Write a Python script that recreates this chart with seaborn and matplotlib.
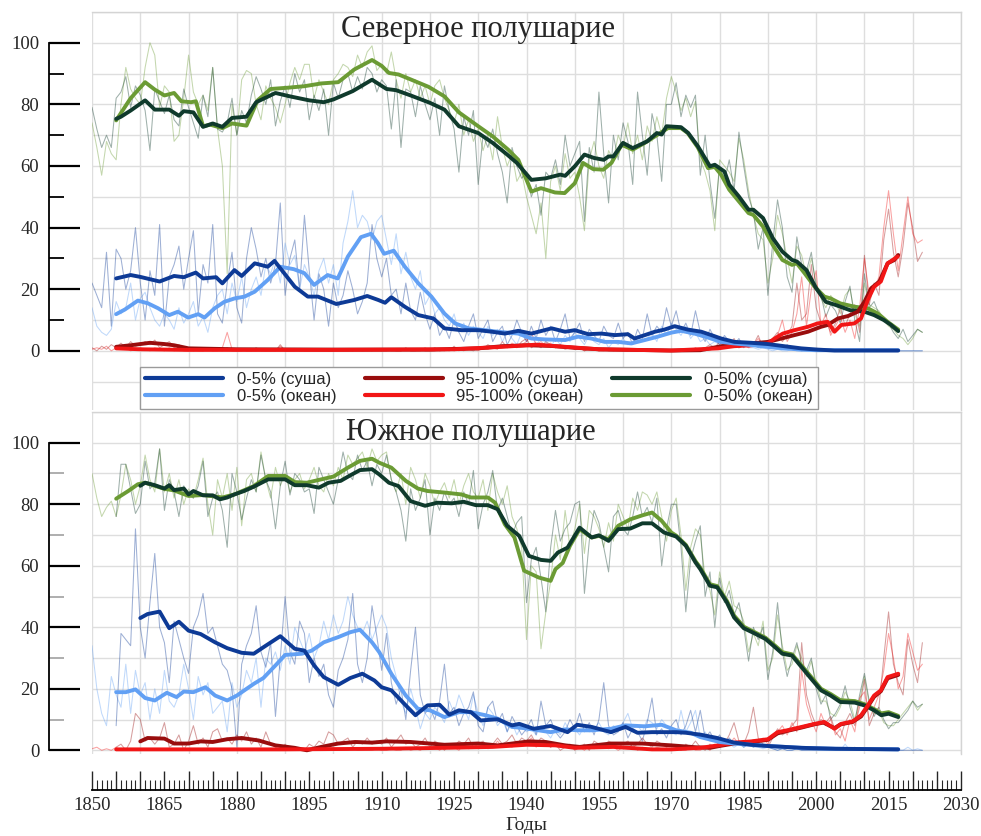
import matplotlib
matplotlib.use('Agg')
import numpy as np
import matplotlib.pyplot as plt
import seaborn as sns
from matplotlib.ticker import MultipleLocator, FixedLocator, FuncFormatter
from matplotlib.lines import Line2D

sns.set_style('white')
plt.rcParams['font.family'] = ['Liberation Serif', 'DejaVu Serif']

# ---------------- данные: годовые значения (тонкие линии) ----------------
NH_START = 1850
nh_land50_thin = [
    79, 72, 66, 70, 66, 82, 84, 89, 79, 86,
    83, 78, 65, 85, 81, 77, 83, 75, 73, 85,
    79, 74, 69, 83, 76, 92, 72, 71, 74, 82,
    70, 78, 74, 83, 89, 85, 80, 88, 73, 81,
    86, 79, 90, 84, 88, 75, 83, 78, 85, 70,
    87, 82, 88, 90, 84, 89, 85, 92, 90, 84,
    88, 86, 72, 88, 66, 85, 84, 76, 86, 80,
    75, 82, 70, 86, 78, 72, 58, 76, 70, 78,
    54, 70, 66, 72, 64, 58, 48, 66, 60, 56,
    58, 50, 54, 44, 58, 56, 62, 54, 70, 60,
    64, 68, 42, 66, 58, 84, 64, 48, 70, 62,
    74, 68, 54, 84, 70, 57, 77, 70, 55, 80,
    80, 87, 76, 83, 79, 83, 57, 70, 55, 43,
    60, 55, 62, 52, 71, 60, 50, 45, 33, 40,
    18, 35, 49, 40, 24, 19, 37, 28, 26, 32,
    20, 18, 11, 15, 13, 9, 16, 21, 10, 3,
    25, 14, 16, 12, 10, 9, 6, 4, 7, 3,
    5, 7, 6]
nh_ocean50_thin = [
    74, 66, 57, 68, 64, 62, 80, 92, 85, 82,
    80, 92, 100, 96, 79, 86, 84, 68, 70, 82,
    96, 84, 80, 83, 78, 92, 72, 60, 25, 80,
    70, 88, 91, 90, 80, 75, 86, 82, 79, 74,
    80, 87, 92, 88, 93, 93, 82, 88, 84, 80,
    88, 90, 93, 92, 89, 96, 92, 97, 99, 91,
    93, 90, 97, 88, 82, 90, 84, 88, 82, 86,
    80, 86, 88, 82, 78, 74, 80, 70, 75, 68,
    72, 65, 70, 62, 76, 66, 60, 64, 55, 58,
    50, 44, 38, 48, 30, 55, 60, 52, 64, 56,
    58, 50, 39, 62, 68, 60, 56, 65, 62, 70,
    66, 74, 64, 70, 62, 73, 68, 76, 70, 82,
    89, 84, 78, 82, 76, 81, 62, 58, 52, 39,
    62, 60, 58, 55, 69, 62, 52, 44, 38, 36,
    22, 30, 44, 38, 30, 22, 34, 31, 24, 30,
    22, 17, 14, 18, 16, 12, 18, 20, 12, 8,
    22, 15, 14, 13, 10, 8, 7, 5, 4, 2,
    4, 7, 6]
nh_land5_thin = [
    22, 18, 14, 32, 8, 33, 30, 20, 26, 40,
    22, 10, 26, 18, 41, 8, 24, 28, 34, 20,
    30, 39, 12, 28, 22, 41, 12, 9, 22, 32,
    14, 9, 30, 40, 33, 24, 30, 22, 28, 48,
    18, 30, 36, 20, 44, 26, 10, 25, 20, 8,
    22, 14, 18, 26, 20, 12, 16, 22, 41, 30,
    24, 30, 18, 20, 12, 22, 13, 10, 19, 12,
    7, 12, 5, 8, 4, 10, 6, 3, 8, 12,
    4, 7, 10, 3, 6, 8, 2, 5, 10, 6,
    3, 8, 4, 10, 5, 8, 3, 7, 12, 4,
    6, 9, 3, 7, 5, 3, 8, 5, 4, 9,
    4, 6, 2, 7, 4, 12, 5, 8, 6, 14,
    8, 13, 6, 9, 5, 13, 6, 3, 7, 4,
    2, 5, 3, 2, 4, 1, 3, 2, 1, 3,
    1, 2, 1, 0.5, 2, 0.5, 1, 0, 0.5, 0,
    0, 0, 0, 0, 0, 0, 0, 0, 0, 0,
    0, 0, 0, 0, 0, 0, 0, 0, 0, 0,
    0, 0, 0]
nh_ocean5_thin = [
    14, 8, 6, 5, 7, 16, 12, 14, 22, 10,
    17, 19, 14, 10, 8, 12, 10, 7, 14, 9,
    12, 16, 8, 11, 6, 14, 18, 20, 12, 22,
    16, 24, 14, 20, 24, 18, 28, 25, 30, 22,
    35, 28, 31, 20, 28, 24, 18, 26, 30, 22,
    28, 18, 35, 42, 52, 40, 44, 42, 36, 42,
    44, 36, 28, 38, 25, 32, 24, 20, 26, 15,
    18, 12, 14, 10, 8, 12, 6, 9, 5, 8,
    6, 4, 8, 5, 7, 3, 6, 4, 2, 6,
    3, 5, 2, 4, 3, 1, 4, 2, 5, 3,
    6, 4, 2, 5, 3, 2, 4, 1, 3, 2,
    4, 2, 3, 5, 3, 4, 6, 3, 8, 5,
    9, 7, 5, 8, 4, 6, 3, 4, 2, 3,
    2, 3, 1, 2, 1, 2, 1, 1, 0.5, 1,
    0.5, 0, 0.5, 0, 0, 0.5, 0, 0, 0, 0,
    0, 0, 0, 0, 0, 0, 0, 0, 0, 0,
    0, 0, 0, 0, 0, 0, 0, 0, 0, 0,
    0, 0, 0]
nh_land95_thin = [
    1, 0, 1.5, 0.5, 2, 1, 2.5, 1, 3, 1.5,
    2, 3, 2, 3.5, 1, 2, 3, 1, 2, 0.5,
    1, 0, 0.5, 0, 1, 0, 0.5, 0, 1, 0,
    0, 0.5, 0, 0, 1, 0, 0, 0.5, 0, 2,
    0, 0, 0.5, 0, 0, 0, 0.5, 0, 0, 0,
    0, 0.5, 0, 0, 0, 0.5, 0, 0, 0, 0.5,
    0, 0, 0.5, 0, 0, 1, 0, 0, 0.5, 0,
    0, 1, 0, 0.5, 0, 1.5, 0, 1, 0.5, 0,
    1, 0.5, 2, 1, 0.5, 3, 1, 2, 1, 3,
    4, 1, 2, 1, 3, 2, 1, 1.5, 0.5, 1,
    0.5, 1, 0, 0.5, 1, 0, 0.5, 0, 0, 0.5,
    0, 0, 0.5, 0, 0, 0, 0.5, 0, 0, 0,
    0, 0, 0.5, 0, 0, 1, 0, 1, 2, 1,
    3, 1, 2, 4, 1, 2, 3, 2, 5, 1,
    2, 4, 6, 3, 5, 8, 22, 10, 12, 28,
    14, 9, 10, 6, 9, 14, 8, 12, 15, 6,
    31, 15, 22, 18, 36, 46, 32, 24, 34, 48,
    40, 29, 32]
nh_ocean95_thin = [
    0.5, 1, 0.5, 1.5, 0, 1, 0.5, 1, 0, 0.5,
    1, 0.5, 0, 1, 0.5, 0, 1, 0, 0.5, 0,
    0, 0.5, 0, 0, 0.5, 0, 0, 1, 6, 0.5,
    0, 0, 0.5, 0, 0, 0.5, 0, 0, 0, 1.5,
    0, 0, 0, 0.5, 0, 0, 0, 0, 0.5, 0,
    0, 0, 0, 0.5, 0, 0, 0, 0.5, 0, 0,
    0, 0.5, 0, 0, 0, 0.5, 0, 0, 0, 1,
    0, 0, 0.5, 0, 1, 0, 0.5, 0, 1, 0.5,
    0, 1, 0.5, 1.5, 1, 2, 1, 2.5, 1.5, 2,
    3, 6, 2, 3, 1.5, 2.5, 1, 2, 1, 1.5,
    0.5, 1, 0, 1, 0.5, 0, 0, 0.5, 0, 0,
    0, 0.5, 0, 0, 0, 0.5, 0, 0, 0, 0,
    0, 0, 0, 0.5, 0, 0, 0.5, 0, 1, 0.5,
    1, 2, 1, 3, 1, 2, 1, 2, 4, 2,
    1, 3, 5, 10, 3, 6, 12, 24, 8, 20,
    26, 8, 12, 5, 8, 11, 6, 10, 4, 14,
    30, 18, 20, 24, 40, 52, 38, 26, 38, 50,
    38, 35, 36]

SH_START = 1850
SH_LAND_START = 1855
sh_ocean50_thin = [
    90, 82, 76, 79, 81, 76, 83, 93, 88, 80,
    86, 96, 88, 84, 98, 84, 90, 82, 88, 80,
    85, 82, 88, 95, 80, 70, 88, 82, 90, 78,
    92, 73, 88, 90, 84, 97, 88, 82, 92, 86,
    90, 84, 88, 90, 85, 88, 92, 86, 84, 90,
    86, 92, 88, 96, 93, 95, 97, 92, 98, 94,
    96, 97, 88, 84, 90, 80, 92, 88, 82, 90,
    86, 80, 84, 87, 82, 88, 80, 86, 90, 84,
    82, 88, 78, 90, 84, 80, 86, 76, 72, 66,
    36, 60, 58, 33, 45, 55, 70, 62, 78, 66,
    72, 80, 64, 78, 76, 72, 66, 74, 68, 80,
    76, 72, 82, 78, 84, 83, 80, 84, 76, 68,
    78, 82, 70, 52, 66, 72, 70, 56, 52, 44,
    58, 50, 55, 47, 46, 42, 32, 38, 34, 42,
    26, 30, 44, 34, 26, 28, 34, 30, 24, 29,
    22, 16, 16, 12, 11, 14, 19, 16, 10, 16,
    24, 15, 12, 13, 9, 8, 8, 10, 12, 14,
    16, 13, 15]
sh_land50_thin = [
    76, 93, 93, 85, 77,
    80, 94, 85, 87, 98, 78, 88, 84, 76, 86,
    83, 82, 86, 94, 76, 82, 84, 78, 66, 90,
    84, 75, 82, 88, 84, 96, 88, 84, 72, 86,
    94, 83, 90, 88, 84, 85, 77, 92, 88, 84,
    80, 88, 97, 90, 88, 96, 91, 94, 86, 93,
    90, 96, 88, 84, 78, 68, 85, 78, 82, 88,
    70, 82, 78, 84, 80, 82, 76, 84, 80, 91,
    72, 80, 84, 91, 78, 82, 76, 70, 74, 76,
    48, 62, 66, 56, 45, 66, 78, 68, 72, 74,
    80, 81, 51, 68, 78, 74, 66, 58, 76, 78,
    72, 70, 76, 84, 76, 79, 74, 82, 60, 72,
    80, 80, 66, 45, 62, 68, 73, 50, 58, 40,
    56, 48, 52, 44, 48, 40, 29, 40, 36, 40,
    23, 32, 48, 32, 24, 30, 35, 28, 26, 30,
    20, 15, 18, 10, 12, 15, 21, 14, 9, 18,
    25, 16, 11, 14, 10, 7, 9, 9, 11, 13,
    16, 14, 15]
sh_land5_thin = [
    8, 38, 36, 34, 72,
    40, 30, 48, 64, 40, 35, 22, 42, 36, 30,
    25, 40, 44, 51, 38, 40, 34, 28, 26, 20,
    1, 28, 34, 38, 47, 32, 27, 35, 11, 30,
    50, 32, 28, 42, 38, 22, 30, 24, 28, 18,
    14, 26, 30, 36, 51, 28, 22, 30, 47, 37,
    26, 38, 22, 15, 20, 10, 26, 40, 18, 12,
    14, 10, 16, 28, 12, 14, 8, 12, 14, 19,
    8, 6, 14, 16, 9, 12, 6, 11, 8, 5,
    7, 10, 5, 16, 8, 10, 6, 4, 6, 10,
    7, 12, 6, 9, 5, 10, 22, 8, 5, 6,
    9, 4, 7, 6, 3, 9, 17, 5, 7, 4,
    8, 10, 5, 8, 13, 6, 13, 4, 6, 3,
    5, 2, 4, 2, 3, 1, 2, 1, 2, 1,
    1, 0.5, 0, 0.5, 0, 0, 0.5, 0, 0, 0,
    0, 0, 0, 0, 0, 0, 0, 0, 1, 0,
    0, 0, 0, 0, 0, 0, 0, 0, 0, 0,
    0, 0, 0]
sh_ocean5_thin = [
    34, 20, 12, 8, 24, 18, 14, 28, 12, 26,
    18, 22, 10, 20, 12, 26, 16, 14, 18, 28,
    20, 10, 24, 18, 22, 12, 14, 16, 6, 22,
    14, 18, 26, 22, 30, 14, 30, 28, 32, 26,
    34, 28, 40, 36, 32, 38, 30, 34, 42, 36,
    44, 38, 42, 50, 44, 40, 38, 42, 36, 40,
    44, 40, 30, 24, 16, 12, 20, 14, 7, 12,
    10, 14, 12, 9, 16, 12, 18, 14, 10, 18,
    12, 8, 14, 12, 8, 10, 6, 9, 5, 8,
    6, 7, 5, 8, 6, 4, 7, 5, 9, 6,
    7, 5, 8, 6, 7, 9, 6, 5, 8, 7,
    9, 12, 7, 8, 6, 10, 9, 7, 10, 8,
    6, 5, 13, 6, 9, 13, 4, 6, 3, 4,
    2, 3, 2, 1, 2, 1, 2, 1, 1, 0.5,
    1, 0.5, 0, 0.5, 0, 0, 0.5, 0, 0, 0,
    0, 0, 0, 0, 0, 0, 2, 0, 0, 0,
    0, 0, 0, 0, 0, 0, 0, 0, 0, 1,
    0, 0.5, 0]
sh_land95_thin = [
    1, 2, 0, 3, 12,
    10, 3, 4, 2, 4, 9, 1, 2, 5, 0,
    3, 8, 2, 4, 1, 6, 7, 3, 4, 2,
    5, 3, 6, 2, 4, 1, 6, 2, 1, 0,
    2, 0, 1, 0, 0, 2, 1, 3, 2, 6,
    5, 2, 3, 4, 1, 3, 2, 4, 2, 3,
    2, 4, 1, 3, 5, 2, 3, 1, 2, 4,
    1, 3, 2, 0, 2, 1, 3, 2, 4, 1,
    2, 3, 1, 2, 4, 2, 3, 5, 2, 4,
    3, 5, 2, 4, 3, 1, 2, 0, 1, 2,
    0, 1, 2, 0, 3, 2, 1, 3, 2, 1,
    2, 3, 1, 2, 4, 2, 1, 3, 2, 1,
    2, 1, 0, 2, 1, 3, 1, 0, 2, 1,
    3, 2, 5, 9, 3, 2, 6, 14, 4, 2,
    1, 4, 7, 5, 6, 8, 10, 35, 18, 12,
    8, 10, 9, 11, 6, 4, 9, 12, 8, 14,
    23, 8, 12, 14, 30, 45, 28, 22, 18, 36,
    28, 22, 35]
sh_ocean95_thin = [
    0.5, 1, 0, 0.5, 0, 1, 0, 0.5, 0, 0,
    0.5, 0, 0, 0.5, 0, 0, 0.5, 0, 0, 0.5,
    0, 0, 0.5, 0, 0, 0, 0.5, 0, 0, 0,
    0.5, 0, 0, 0, 0.5, 0, 0, 0, 0.5, 0,
    0, 0, 0.5, 0, 0, 0, 0, 0.5, 0, 0,
    0.5, 0, 0, 0, 0.5, 0, 0, 0, 0, 0.5,
    0, 0, 0.5, 0, 0, 1, 0, 0.5, 0, 1,
    0.5, 1, 0, 1.5, 0.5, 1, 0, 2, 0.5, 1,
    1, 2, 0.5, 1, 3, 1, 2, 1, 3, 1.5,
    2, 4, 1, 3, 2, 1, 2.5, 1, 2, 1,
    0.5, 1, 0, 1.5, 0.5, 2, 1, 0.5, 1, 0,
    1, 0.5, 2, 0, 1, 0.5, 0, 1, 0.5, 0,
    0, 0.5, 0, 0, 1, 0, 0, 1, 0, 2,
    1, 3, 2, 4, 2, 3, 2, 3, 2, 4,
    2, 5, 6, 8, 5, 9, 6, 26, 15, 10,
    6, 12, 8, 10, 5, 7, 3, 10, 6, 17,
    19, 10, 14, 18, 26, 38, 30, 20, 24, 38,
    32, 26, 28]

# ---------------- данные: сглаженные ряды (толстые линии), (год, %) ----------------
nh_land50 = [(1855, 75.3), (1856, 76), (1858, 78), (1861, 81.3), (1863, 78.3), (1866, 78.3), (1868, 76.3),
             (1869, 77.8), (1871, 77.4), (1873, 72.7), (1875, 73.8), (1877, 72.7), (1879, 75.6), (1882, 76),
             (1884, 80.7), (1888, 83.7), (1891, 82.6), (1895, 81.3), (1898, 80.7), (1900, 81.6), (1904, 84.3),
             (1908, 88), (1911, 85), (1913, 84.6), (1916, 82.9), (1920, 80.5), (1923, 78.3), (1926, 72.9),
             (1930, 70.7), (1933, 67.5), (1936, 63.7), (1938, 61), (1941, 55.5), (1944, 56), (1947, 57.2),
             (1948, 56.8), (1950, 59.9), (1952, 63.7), (1954, 62.6), (1956, 62), (1957, 63.1), (1958, 63.1),
             (1960, 67.5), (1962, 65.8), (1965, 68), (1967, 70.7), (1968, 70.2), (1969, 72.9), (1972, 72.6),
             (1973.5, 70.7), (1975.5, 66.4), (1978, 59.9), (1979, 60.4), (1981, 58.2), (1982, 53.9), (1984, 50.1),
             (1986, 45.8), (1987, 45.8), (1989, 43.1), (1991, 36.6), (1993, 32.2), (1995, 29.5), (1996, 29),
             (1998, 26.2), (2000, 20.3), (2002, 15.9), (2004, 14.9), (2007, 13.2), (2010, 12.7), (2012, 11.6),
             (2014, 10), (2015.5, 8.4), (2017, 6.4)]
nh_ocean50 = [(1855, 74.8), (1856, 77.2), (1858, 82), (1861, 87.2), (1863, 84.8), (1865, 82.9), (1867, 83.7),
              (1868.5, 81), (1870.5, 80.7), (1871.5, 81), (1873, 72.9), (1874.5, 73.4), (1877, 72.3), (1879, 73.8),
              (1882, 73.1), (1884.3, 81.3), (1887, 85), (1890.5, 85.4), (1894, 85.9), (1897.5, 86.8), (1901, 87.2),
              (1904.3, 91.3), (1908, 94.4), (1910, 92.5), (1911.5, 90.2), (1913.5, 89.7), (1916, 88.1),
              (1919.7, 85.7), (1923, 82.6), (1926, 77.4), (1930, 72.9), (1933, 69.6), (1936.2, 65.3), (1938.3, 62),
              (1941, 51.7), (1943, 52.8), (1945.9, 51.4), (1947.9, 51.2), (1950, 54.4), (1951.7, 61), (1953.8, 59),
              (1955.9, 58.8), (1957.6, 61), (1959.7, 66.9), (1962, 65.3), (1964.5, 67.5), (1967.2, 70.2),
              (1969.3, 72.3), (1972, 72.3), (1973.4, 70.7), (1975.5, 66), (1977.6, 59.3), (1979, 59.7),
              (1980.3, 57.2), (1982, 52.3), (1984, 48.5), (1986, 44.7), (1987, 44.1), (1989, 40.3), (1991, 34.4),
              (1993, 29.5), (1995, 27.9), (1996, 28.4), (1997.6, 25.2), (1999.7, 20.8), (2001.7, 17.6), (2003, 17),
              (2005, 15.4), (2008, 14.3), (2010.7, 13.8), (2012.8, 12.1), (2014.8, 9.4), (2017, 6.9)]
nh_land5 = [(1855, 23.5), (1858, 24.6), (1860, 24), (1864, 22.5), (1867, 24.3), (1869, 23.9), (1871.5, 25.4),
            (1873, 23.5), (1875.7, 23.9), (1877, 21.9), (1879.5, 26.2), (1881, 24.3), (1883.7, 28.4), (1886.4, 27.3),
            (1887.8, 29.2), (1892, 20.8), (1894.7, 17.6), (1896.8, 17.6), (1900.6, 15.2), (1904.3, 16.5),
            (1907, 17.8), (1909.3, 16.5), (1910.7, 15.6), (1912, 17.4), (1914.8, 14.3), (1917.6, 11.6),
            (1920.7, 10.5), (1923, 7.3), (1926.5, 6.7), (1930, 6.7), (1932.8, 6.2), (1935.5, 5.6), (1938.3, 6.5),
            (1941, 5.6), (1945.2, 7.3), (1948, 6.2), (1950, 6.7), (1952.8, 5.4), (1955.5, 5.6), (1958.3, 5.1),
            (1961, 5.4), (1962.4, 4), (1964.5, 5.1), (1966.6, 6.2), (1968.6, 6.9), (1970.7, 8), (1973.4, 6.9),
            (1976.2, 6.2), (1978.3, 5.1), (1980.3, 4), (1983.1, 2.9), (1986.6, 2.6), (1990, 2.2), (1993.4, 1.5),
            (1996.9, 0.8), (2000.3, 0.4), (2003.8, 0.1), (2017, 0.1)]
nh_ocean5 = [(1855, 11.9), (1856.8, 13.4), (1859.5, 16.3), (1861.6, 15.4), (1863.7, 13.8), (1866, 11.6),
             (1867.8, 12.7), (1869.9, 10.8), (1872, 11.9), (1873.3, 10.8), (1875.4, 13.8), (1877.4, 15.9),
             (1879.5, 17), (1881.6, 17.6), (1883.7, 19.2), (1886.4, 23), (1889, 27.3), (1891.8, 26.5), (1894, 25.2),
             (1896, 21.4), (1898.8, 24.6), (1900.9, 23.5), (1903, 30.6), (1905.7, 36.9), (1907.8, 38), (1909.2, 35),
             (1910.5, 31.5), (1912.5, 32.5), (1914.8, 27.3), (1917.6, 21.9), (1920.3, 17.6), (1923, 12.1),
             (1925.2, 8.9), (1928, 7.3), (1931.4, 6.7), (1934, 6.2), (1938.3, 5.6), (1941, 4), (1943.8, 3.7),
             (1948, 3.5), (1950.7, 4.6), (1953.4, 4), (1956.2, 2.9), (1959, 2.9), (1961.7, 2.4), (1964.5, 3.5),
             (1967.2, 4.6), (1970, 5.9), (1972, 6.5), (1974.8, 5.6), (1977.6, 4.3), (1980.3, 2.9), (1983, 2.4),
             (1987, 1.8), (1991, 1.1), (1996.9, 0.4), (2000, 0.2), (2017, 0.2)]
nh_land95 = [(1855, 1.3), (1858, 1.8), (1862, 2.6), (1865, 2.2), (1867, 1.8), (1870, 0.8), (1880, 0.5), (1900, 0.4),
             (1920, 0.4), (1930, 0.8), (1935, 1.5), (1940, 1.8), (1945, 1.6), (1950, 1.0), (1955, 0.5), (1970, 0.1),
             (1976, 0.2), (1979.7, 1.3), (1983, 2.2), (1986.6, 2.4), (1990, 2.9), (1992.8, 4), (1995.5, 5.1),
             (1998.3, 6.2), (2001, 7.8), (2002.4, 8.4), (2004.5, 10.5), (2006.6, 11.3), (2008.6, 12.7), (2010, 15.9),
             (2011.4, 20.3), (2013.1, 22.5), (2014.8, 28.4), (2016.2, 29.5), (2017, 31.1)]
nh_ocean95 = [(1855, 0.8), (1860, 0.5), (1870, 0.3), (1900, 0.3), (1925, 0.5), (1935, 1.3), (1942, 2.0), (1948, 1.3),
              (1955, 0.5), (1970, 0.1), (1979.7, 0.8), (1983, 1.5), (1986.6, 1.8), (1990, 2.4), (1991.4, 4),
              (1993.1, 5.6), (1995.5, 6.7), (1998.3, 7.8), (2000.3, 8.9), (2002.4, 9.4), (2003.8, 6.2), (2005.2, 8.4),
              (2007.9, 8.9), (2009.3, 10.5), (2010.7, 16.5), (2012, 20.8), (2013.4, 22.5), (2014.8, 28.4),
              (2016.9, 30.6)]

sh_land50 = [(1860, 86), (1861, 87), (1863, 86.2), (1865, 85.1), (1866, 86.2), (1867, 84.6), (1869, 85.1),
             (1870, 83.2), (1871, 84.3), (1873, 82.9), (1875, 82.9), (1876.5, 81.6), (1878, 82.2), (1879.5, 83.2),
             (1881.5, 84.3), (1883.5, 85.7), (1886.5, 88.1), (1890, 88.1), (1892, 86.2), (1894.5, 86.2),
             (1897, 85.4), (1899, 87), (1901.5, 87.6), (1903.5, 89.4), (1905.5, 91.1), (1908, 91.4),
             (1909.5, 89.7), (1911.5, 87), (1913.5, 85.9), (1916, 81), (1919, 79.5), (1921.5, 80.5),
             (1924.5, 80.3), (1927, 80.8), (1929.5, 79.7), (1932, 79.7), (1934, 78.4), (1936, 73), (1938.5, 69.7),
             (1940.5, 63.2), (1943, 61.9), (1945, 61.6), (1946.5, 64.3), (1948.5, 65.9), (1951, 72.4),
             (1953.5, 69.2), (1955, 69.9), (1957, 68.1), (1959, 71.9), (1961.5, 72.1), (1964, 73.8), (1966, 73.8),
             (1968.5, 70.8), (1971, 69.5), (1973, 66.5), (1975, 61.1), (1976, 58.9), (1978, 53.5), (1979.5, 53),
             (1981.5, 48.1), (1983, 43.2), (1985, 39.7), (1987, 38.2), (1989.5, 36.2), (1991.5, 33.5),
             (1993, 31.4), (1995, 30.8), (1997, 27), (1999, 23.2), (2001, 19.5), (2003, 17.8), (2005, 15.7),
             (2008, 15.5), (2010, 14.6), (2012, 13), (2013.5, 11.4), (2015, 11.9), (2017, 10.8)]
sh_ocean50 = [(1855, 81.8), (1857.5, 84.3), (1859.5, 86.5), (1861, 87), (1863, 86), (1865, 85), (1867, 84.5),
              (1870, 82.7), (1873, 83), (1877, 82.2), (1879.5, 83.2), (1883.5, 85.9), (1886.5, 89.2), (1890, 89.2),
              (1892, 87.2), (1894.5, 87), (1897.5, 88.1), (1900, 89), (1903, 91.9), (1905.5, 94.1), (1908, 94.8),
              (1909.5, 93.5), (1912, 91.9), (1915, 87.6), (1917.5, 85.1), (1919.5, 84.3), (1923, 83.8),
              (1926.5, 83.2), (1928.5, 82.2), (1932, 82.2), (1933.5, 80.5), (1935.5, 73.5), (1937.5, 69.2),
              (1939.5, 58.4), (1942.5, 56.2), (1945, 55.1), (1946, 58.9), (1947.5, 60.9), (1949, 66.5), (1951, 71.9),
              (1953.5, 69.2), (1955, 69.7), (1957, 68.6), (1959, 73), (1961.5, 75.1), (1964, 76.4), (1966, 77.3),
              (1968, 74.6), (1970, 70.8), (1971, 69.8), (1973, 66.8), (1975, 61.5), (1976, 59.4), (1978, 54),
              (1979.5, 53.4), (1981.5, 48.6), (1983, 43.8), (1985, 40.2), (1987, 38.6), (1989.5, 36.6),
              (1991.5, 34), (1993, 31.9), (1995, 31.2), (1997, 27.5), (1999, 23.8), (2001, 20), (2003, 18.3),
              (2005, 16.3), (2008, 16), (2010, 15), (2012, 13.4), (2013.5, 12), (2015, 12.4), (2017, 11.2)]
sh_land5 = [(1860, 43), (1861.5, 44.3), (1864, 45.1), (1866, 39.7), (1868, 41.8), (1870, 38.9), (1872.5, 37.8),
            (1875.5, 35.1), (1878, 33.2), (1881, 31.7), (1883.5, 31.4), (1885.5, 33.5), (1889, 37.1), (1892, 33),
            (1894, 32.4), (1896, 27.6), (1898, 23.8), (1901, 21.3), (1903.5, 23.5), (1906, 24.9), (1908.5, 22.7),
            (1910, 20.5), (1912, 19.5), (1915, 14.6), (1917, 11.4), (1919.5, 14.6), (1922, 14.8), (1924, 11.6),
            (1926, 13), (1928.5, 12.4), (1930.5, 9.7), (1934, 10.1), (1937, 8.1), (1938.5, 8.6), (1941.5, 7),
            (1945, 7.9), (1948.5, 5.9), (1950.5, 8.3), (1953.5, 7.6), (1957.5, 5.9), (1960.5, 7.6), (1963, 5.7),
            (1966, 5.9), (1971, 5.9), (1973, 5.7), (1976, 5.1), (1979.5, 4), (1983, 2.5), (1986.5, 1.8),
            (1990, 1.4), (1997, 0.8), (2004, 0.5), (2017, 0.3)]
sh_ocean5 = [(1855, 18.9), (1857, 18.9), (1859, 19.8), (1861, 17), (1863, 16.2), (1865.5, 18.7), (1867.5, 17.3),
             (1869, 19.1), (1871, 18.9), (1873.5, 20.5), (1875.5, 17.8), (1878, 16.2), (1880, 17.8), (1883.5, 21.6),
             (1885.5, 23.5), (1888, 27.6), (1890, 31), (1893.5, 31.4), (1895.5, 32.4), (1898, 35.1), (1901, 36.8),
             (1903.5, 38.4), (1905.5, 39.2), (1908, 35.1), (1909.5, 31.9), (1912, 24.9), (1915, 17.8),
             (1917.5, 13.5), (1920, 13), (1923, 10.8), (1926, 12.4), (1928.5, 12.4), (1931.5, 11.4), (1934, 10.3),
             (1937, 7.6), (1939.5, 7.2), (1942.5, 6.5), (1945, 5.9), (1948, 6.8), (1950.5, 6.5), (1953.5, 6.5),
             (1957.5, 7), (1960.5, 8.1), (1964.5, 7.8), (1968, 8.3), (1971, 6.5), (1974, 5.7), (1976, 4.3),
             (1980, 2.7), (1983, 2.2), (1990, 1.4), (1997, 0.8), (2004, 0.5), (2017, 0.3)]
sh_land95 = [(1860, 2.9), (1861.5, 4), (1865, 3.8), (1867, 2.2), (1870, 2.2), (1872.5, 2.9), (1875, 2.7),
             (1878, 3.6), (1881, 4), (1884.5, 3.2), (1888, 1.6), (1892, 0.8), (1894.5, 0), (1897.5, 1.1),
             (1901, 2.2), (1904.5, 2.7), (1908, 2.5), (1911, 2.9), (1916, 2.7), (1923, 1.8), (1930, 2.2),
             (1934, 1.6), (1940.5, 2.9), (1944, 2.7), (1948, 1.6), (1951, 1.1), (1957.5, 2.2), (1964, 2.2),
             (1970, 1.6), (1975, 1.0), (1978, 0.8), (1980, 1.4), (1983, 2.2), (1986.5, 2.7), (1990, 3.4),
             (1992, 5.5), (1994, 6.3), (1997, 7.4), (1999.5, 8.4), (2001.5, 9), (2003.8, 7.2), (2005, 8.4),
             (2007.5, 9.2), (2009.3, 11), (2010.7, 14.2), (2012, 17.4), (2013.4, 19.2), (2014.8, 23.4), (2017, 24.5)]
sh_ocean95 = [(1855, 0.3), (1870, 0.3), (1890, 0.3), (1910, 0.5), (1923, 0.8), (1933, 1.1), (1940, 1.8),
              (1946, 1.6), (1950, 0.8), (1958, 1.1), (1966, 0.3), (1970, 0.3), (1976, 0.8), (1979.7, 1.6),
              (1983, 2.5), (1986.6, 2.9), (1990, 3.6), (1992, 5.9), (1994, 6.5), (1997, 7.6), (1999.7, 8.6),
              (2001.7, 9.2), (2003.8, 7), (2005.2, 8.6), (2007.6, 9.4), (2009.3, 11.4), (2010.7, 14.6), (2012, 17.8),
              (2013.4, 19.5), (2014.8, 23.8), (2017, 24.9)]

labels = ['0-5% (суша)', '0-5% (океан)', '95-100% (суша)', '95-100% (океан)', '0-50% (суша)', '0-50% (океан)']
colors = {'land5': '#0d3a96', 'ocean5': '#62a0f4', 'land95': '#990d0d', 'ocean95': '#f21616',
          'land50': '#0f3a2c', 'ocean50': '#6b9b34'}


def draw_panel(ax, thin, thick, ylow, title, tx, ty, minor_col):
    # сетка
    for v in range(int(np.ceil(ylow / 10) * 10), 111, 10):
        ax.axhline(v, color='#dedede', lw=1, zorder=0)
    for yr in range(1850, 2031, 10):
        ax.axvline(yr, color='#dedede', lw=1, zorder=0)

    # тонкие годовые линии
    for key, (start, vals) in thin.items():
        yrs = np.arange(start, start + len(vals))
        sns.lineplot(x=yrs, y=vals, ax=ax, color=colors[key], lw=0.75, alpha=0.4,
                     estimator=None, sort=False, legend=False, zorder=2)
    # толстые сглаженные линии
    for key in ['ocean50', 'land50', 'land95', 'ocean95', 'ocean5', 'land5']:
        xs, ys = zip(*thick[key])
        sns.lineplot(x=list(xs), y=list(ys), ax=ax, color=colors[key], lw=2.8,
                     estimator=None, sort=False, legend=False, zorder=3)

    ax.set_xlim(1850, 2030)
    ax.set_ylim(ylow, 110)
    ax.set_xlabel('')
    ax.set_ylabel('')

    for s in ['top', 'right', 'bottom']:
        ax.spines[s].set_color('#d4d4d4')
        ax.spines[s].set_linewidth(1)
    ax.spines['left'].set_position(('outward', 31))
    ax.spines['left'].set_bounds(0, 100)
    ax.spines['left'].set_color('black')
    ax.spines['left'].set_linewidth(1.3)

    ax.set_yticks(range(0, 101, 20))
    ax.yaxis.set_minor_locator(FixedLocator(range(10, 100, 20)))
    ax.tick_params(axis='y', which='major', direction='in', length=22.5, width=1.6,
                   labelsize=13.5, pad=7, color='black', left=True)
    ax.tick_params(axis='y', which='minor', direction='in', length=11, width=1.3,
                   color=minor_col, left=True)
    ax.text(tx, ty, title, transform=ax.transAxes, ha='center', va='center', fontsize=22)


fig = plt.figure(figsize=(9.81, 8.36), dpi=100)
ax_top = fig.add_axes([0.0938, 0.5096, 0.8858, 0.4761])
ax_bot = fig.add_axes([0.0938, 0.0981, 0.8858, 0.4091])

draw_panel(ax_top,
           {'ocean50': (NH_START, nh_ocean50_thin), 'land50': (NH_START, nh_land50_thin),
            'ocean5': (NH_START, nh_ocean5_thin), 'land5': (NH_START, nh_land5_thin),
            'land95': (NH_START, nh_land95_thin), 'ocean95': (NH_START, nh_ocean95_thin)},
           {'land50': nh_land50, 'ocean50': nh_ocean50, 'land5': nh_land5, 'ocean5': nh_ocean5,
            'land95': nh_land95, 'ocean95': nh_ocean95},
           -19.2, 'Северное полушарие', 0.444, 0.955, 'black')
draw_panel(ax_bot,
           {'ocean50': (SH_START, sh_ocean50_thin), 'land50': (SH_LAND_START, sh_land50_thin),
            'ocean5': (SH_START, sh_ocean5_thin), 'land5': (SH_LAND_START, sh_land5_thin),
            'land95': (SH_LAND_START, sh_land95_thin), 'ocean95': (SH_START, sh_ocean95_thin)},
           {'land50': sh_land50, 'ocean50': sh_ocean50, 'land5': sh_land5, 'ocean5': sh_ocean5,
            'land95': sh_land95, 'ocean95': sh_ocean95},
           -1.2, 'Южное полушарие', 0.436, 0.939, '#a8a8a8')

# верхняя панель: без оси X
ax_top.spines['bottom'].set_visible(False)
ax_top.tick_params(axis='x', which='both', bottom=False, labelbottom=False)

# нижняя панель: ось годов
ax_bot.spines['bottom'].set_position(('outward', 26))
ax_bot.spines['bottom'].set_bounds(1850, 2030)
ax_bot.spines['bottom'].set_color('black')
ax_bot.spines['bottom'].set_linewidth(1.3)
ax_bot.xaxis.set_major_locator(MultipleLocator(5))
ax_bot.xaxis.set_minor_locator(MultipleLocator(1))
ax_bot.xaxis.set_major_formatter(FuncFormatter(
    lambda v, p: f'{int(round(v))}' if int(round(v) - 1850) % 15 == 0 else ''))
ax_bot.tick_params(axis='x', which='major', direction='in', length=14, width=1.0,
                   labelsize=13.5, pad=5, bottom=True)
ax_bot.tick_params(axis='x', which='minor', direction='in', length=7, width=0.8, bottom=True)
ax_bot.set_xlabel('Годы', fontsize=14, labelpad=2)

handles = [Line2D([0], [0], color=colors[k], lw=3) for k in
           ['land5', 'ocean5', 'land95', 'ocean95', 'land50', 'ocean50']]
fig.legend(handles, labels, loc='upper left', bbox_to_anchor=(0.1427, 0.5610), ncol=3,
           frameon=True, fancybox=False, edgecolor='#9a9a9a', framealpha=1,
           prop={'family': ['Liberation Sans', 'DejaVu Sans'], 'size': 12},
           handlelength=4.7, handletextpad=0.8, columnspacing=1.7, labelspacing=0.1,
           borderpad=0.3, borderaxespad=0)

fig.savefig('out.png', dpi=100)
